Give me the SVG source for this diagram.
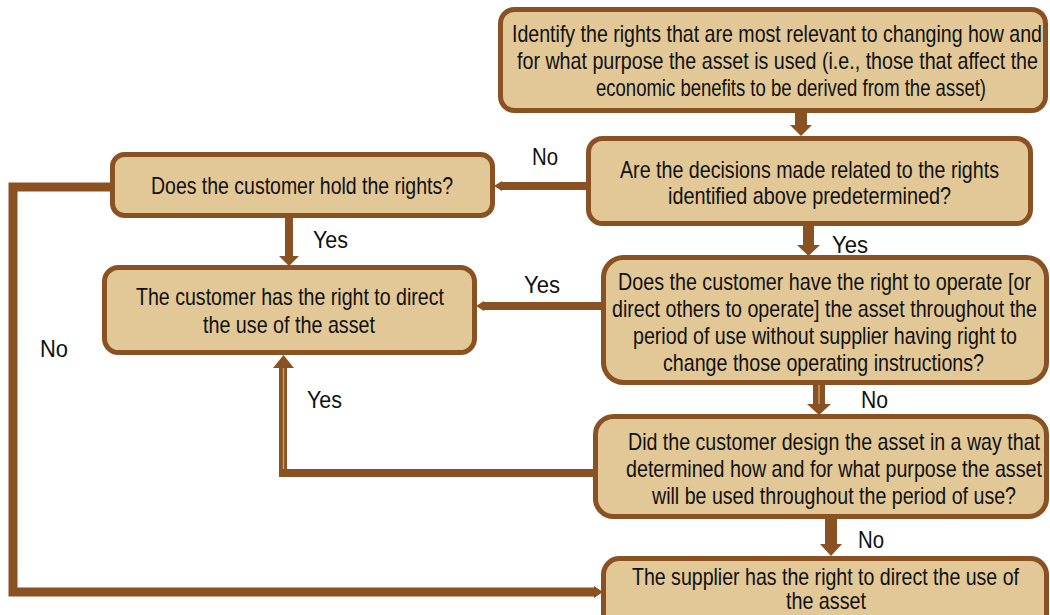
<svg xmlns="http://www.w3.org/2000/svg" width="1050" height="615" viewBox="0 0 1050 615">
<style>
.box{fill:#E2C896;stroke:#8A5222;stroke-width:5}
.t{font-family:"Liberation Sans",Arial,sans-serif;font-size:23px;fill:#111;text-anchor:middle}
.l{font-family:"Liberation Sans",Arial,sans-serif;font-size:23px;fill:#111}
.ln{fill:none;stroke:#8A5222;stroke-linejoin:miter;stroke-linecap:butt}
.ah{fill:#8A5222}
.stripe{stroke:#C89A64;stroke-width:1.5;fill:none}
</style>
<rect width="1050" height="615" fill="#fff"/>
<g id="connectors">
  <polygon class="ah" points="795,111 807,111 807,125 812,125 801,136 790,125 795,125"/>
  <polygon class="ah" points="803,224 814,224 814,245 820,245 808.5,256 797,245 803,245"/>
  <polygon class="ah" points="285,216 293,216 293,256 299,256 289,266 279,256 285,256"/>
  <polygon class="ah" points="813,383 825,383 825,404 831,404 819,415 807,404 813,404"/>
  <line class="stripe" x1="819" y1="385" x2="819" y2="404"/>
  <polygon class="ah" points="825,517 837,517 837,544 842,544 831,556 820,544 825,544"/>
  <line class="ln" x1="588" y1="186" x2="500" y2="186" stroke-width="8"/>
  <polygon class="ah" points="502,181 502,191 494,186"/>
  <line class="ln" x1="603" y1="306" x2="482" y2="306" stroke-width="8"/>
  <polygon class="ah" points="484,301 484,311 476,306"/>
  <polyline class="ln" points="595,473 283,473 283,366" stroke-width="8"/>
  <polygon class="ah" points="273,368 283.5,355 294,368"/>
  <line class="stripe" x1="283.5" y1="368" x2="283.5" y2="469"/>
  <polyline class="ln" points="112,187 13,187 13,592 596,592" stroke-width="9"/>
  <polygon class="ah" points="594,586 594,598 603,592"/>
</g>
<g id="labels" transform="scale(0.85,1)">
  <text class="l" x="625.88" y="165" textLength="30.59" lengthAdjust="spacingAndGlyphs">No</text>
  <text class="l" x="368.24" y="248" textLength="41.18" lengthAdjust="spacingAndGlyphs">Yes</text>
  <text class="l" x="978.82" y="253" textLength="42.35" lengthAdjust="spacingAndGlyphs">Yes</text>
  <text class="l" x="616.47" y="293" textLength="42.35" lengthAdjust="spacingAndGlyphs">Yes</text>
  <text class="l" x="1012.94" y="408" textLength="31.76" lengthAdjust="spacingAndGlyphs">No</text>
  <text class="l" x="361.18" y="408" textLength="41.18" lengthAdjust="spacingAndGlyphs">Yes</text>
  <text class="l" x="1009.41" y="548" textLength="30.59" lengthAdjust="spacingAndGlyphs">No</text>
  <text class="l" x="47.06" y="357" textLength="32.94" lengthAdjust="spacingAndGlyphs">No</text>
</g>
<g id="node-identify">
  <rect class="box" x="500.5" y="9.5" width="545" height="101" rx="14"/>
  <g transform="scale(0.85,1)">
    <text class="t" x="914.12" y="42" textLength="623.53" lengthAdjust="spacingAndGlyphs">Identify the rights that are most relevant to changing how and</text>
    <text class="t" x="914.71" y="69" textLength="612.94" lengthAdjust="spacingAndGlyphs">for what purpose the asset is used (i.e., those that affect the</text>
    <text class="t" x="930.59" y="96" textLength="458.82" lengthAdjust="spacingAndGlyphs">economic benefits to be derived from the asset)</text>
  </g>
</g>
<g id="node-predetermined">
  <rect class="box" x="588.5" y="138.5" width="442" height="85" rx="14"/>
  <g transform="scale(0.85,1)">
    <text class="t" x="952.35" y="178" textLength="445.88" lengthAdjust="spacingAndGlyphs">Are the decisions made related to the rights</text>
    <text class="t" x="952.35" y="204" textLength="332.94" lengthAdjust="spacingAndGlyphs">identified above predetermined?</text>
  </g>
</g>
<g id="node-hold-rights">
  <rect class="box" x="112.5" y="154.5" width="380" height="61" rx="12"/>
  <g transform="scale(0.85,1)">
    <text class="t" x="355.29" y="194" textLength="355.29" lengthAdjust="spacingAndGlyphs">Does the customer hold the rights?</text>
  </g>
</g>
<g id="node-customer-directs">
  <rect class="box" x="104.5" y="267.5" width="370" height="85" rx="14"/>
  <g transform="scale(0.85,1)">
    <text class="t" x="341.18" y="305" textLength="362.35" lengthAdjust="spacingAndGlyphs">The customer has the right to direct</text>
    <text class="t" x="340" y="333" textLength="202.35" lengthAdjust="spacingAndGlyphs">the use of the asset</text>
  </g>
</g>
<g id="node-operate">
  <rect class="box" x="603.5" y="257.5" width="443" height="125" rx="20"/>
  <g transform="scale(0.85,1)">
    <text class="t" x="970" y="290" textLength="485.88" lengthAdjust="spacingAndGlyphs">Does the customer have the right to operate [or</text>
    <text class="t" x="970" y="317" textLength="500" lengthAdjust="spacingAndGlyphs">direct others to operate] the asset throughout the</text>
    <text class="t" x="970.59" y="344" textLength="451.76" lengthAdjust="spacingAndGlyphs">period of use without supplier having right to</text>
    <text class="t" x="968.82" y="371" textLength="377.65" lengthAdjust="spacingAndGlyphs">change those operating instructions?</text>
  </g>
</g>
<g id="node-design">
  <rect class="box" x="595.5" y="416.5" width="451" height="100" rx="18"/>
  <g transform="scale(0.85,1)">
    <text class="t" x="981.18" y="450" textLength="484.71" lengthAdjust="spacingAndGlyphs">Did the customer design the asset in a way that</text>
    <text class="t" x="981.18" y="477" textLength="489.41" lengthAdjust="spacingAndGlyphs">determined how and for what purpose the asset</text>
    <text class="t" x="981.18" y="504" textLength="428.24" lengthAdjust="spacingAndGlyphs">will be used throughout the period of use?</text>
  </g>
</g>
<g id="node-supplier-directs">
  <rect class="box" x="603.5" y="558.5" width="443" height="75" rx="16"/>
  <g transform="scale(0.85,1)">
    <text class="t" x="971.18" y="585" textLength="455.29" lengthAdjust="spacingAndGlyphs">The supplier has the right to direct the use of</text>
    <text class="t" x="971.76" y="609" textLength="94.12" lengthAdjust="spacingAndGlyphs">the asset</text>
  </g>
</g>
</svg>
